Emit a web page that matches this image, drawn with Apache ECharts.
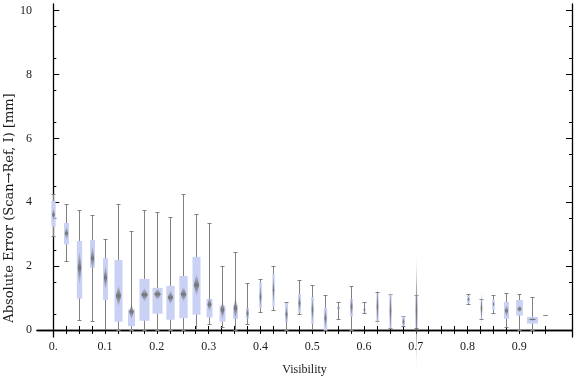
<!DOCTYPE html>
<html>
<head>
<meta charset="utf-8">
<script src="https://cdn.jsdelivr.net/npm/echarts@6/dist/echarts.min.js"></script>
<style>
  html, body { margin: 0; padding: 0; background: #fff; }
  #chart { width: 576px; height: 377px; }
</style>
</head>
<body>
<div id="chart"></div>
<script>
// visibility bins (0.725 - 0.775 have no data)
const visibility = [0, 0.025, 0.05, 0.075, 0.1, 0.125, 0.15, 0.175, 0.2, 0.225, 0.25, 0.275, 0.3, 0.325,
  0.35, 0.375, 0.4, 0.425, 0.45, 0.475, 0.5, 0.525, 0.55, 0.575, 0.6, 0.625, 0.65, 0.675, 0.7,
  0.8, 0.825, 0.85, 0.875, 0.9, 0.925, 0.95]
const whiskerLow = [2.94, 2.15, 0.31, 0.27, 0.03, 0, 0, 0, 0, 0, 0, 0.03, 0.19, 0.08,
  0, 0.19, 0.55, 0.62, 0, 0.49, 0.03, 0, 0.34, 0, 0.52, 0.27, 0.05, 0.12, 0.06,
  0.80, 0.34, 0.52, 0.09, 0, 0, 0.47]
const quart1 = [3.24, 2.68, 0.98, 1.95, 0.95, 0.26, 0.12, 0.29, 0.51, 0.32, 0.37, 0.48, 0.39, 0.26,
  0.35, 0.35, 0.68, 0.73, 0.26, 0.54, 0.19, 0, 0.66, 0.42, 0.55, 0.27, 0.05, 0.13, 0.06,
  0.84, 0.34, 0.62, 0.35, 0.45, 0.20, 0.47]
const median = [3.61, 3.03, 1.95, 2.25, 1.64, 1.07, 0.57, 1.10, 1.12, 1.02, 1.12, 1.41, 0.80, 0.63,
  0.68, 0.52, 1.04, 1.25, 0.49, 0.84, 0.63, 0.37, 0.69, 0.73, 0.63, 0.73, 0.60, 0.26, 0.58,
  0.96, 0.68, 0.81, 0.60, 0.66, 0.33, 0.47]
const quart3 = [4.04, 3.35, 2.79, 2.82, 2.25, 2.19, 0.64, 1.60, 1.32, 1.38, 1.69, 2.29, 0.97, 0.76,
  0.78, 0.69, 1.49, 1.75, 0.84, 1.13, 1.03, 0.70, 0.73, 0.97, 0.70, 1.14, 1.12, 0.42, 1.09,
  1.07, 0.96, 0.96, 0.88, 0.94, 0.41, 0.47]
const whiskerHigh = [4.25, 3.94, 3.75, 3.59, 2.84, 3.94, 3.11, 3.75, 3.71, 3.53, 4.27, 3.64, 3.34, 2.00,
  2.43, 1.47, 1.59, 2.00, 0.88, 1.56, 1.40, 1.09, 0.87, 1.37, 0.87, 1.18, 1.12, 0.43, 1.09,
  1.12, 0.96, 1.09, 1.15, 1.12, 1.03, 0.47]
// relative box width (sample weight)
const boxWeight = [0.43, 0.5, 0.53, 0.5, 0.5, 0.8, 0.7, 1, 1, 0.83, 0.83, 0.8, 0.6, 0.6,
  0.5, 0.3, 0.27, 0.23, 0.3, 0.3, 0.27, 0.33, 0.3, 0.3, 0.17, 0.23, 0.23, 0.3, 0.2,
  0.27, 0.13, 0.27, 0.5, 0.67, 1.1, 0.1]
// half height of the median confidence diamond
const medianSpread = [0.22, 0.22, 0.57, 0.42, 0.42, 0.35, 0.25, 0.22, 0.19, 0.23, 0.25, 0.37, 0.24, 0.3,
  0.4, 0.25, 0.4, 0.5, 0.3, 0.3, 0.45, 0.35, 0.05, 0.35, 0.15, 0.7, 0.8, 0.15, 1.9,
  0.1, 0.55, 0.1, 0.2, 0.12, 0.05, 0]

const xTickValues = []
for (let i = 0; i <= 38; i++) xTickValues.push(+(i * 0.025).toFixed(3))
const xLabelValues = [0, 0.1, 0.2, 0.3, 0.4, 0.5, 0.6, 0.7, 0.8, 0.9]
const yMajor = [0, 2, 4, 6, 8, 10]
const yMinor = []
for (let i = 1; i < 20; i += 2) yMinor.push(i * 0.5)

const serif = '"Liberation Serif", "DejaVu Serif", serif'
const boxColor = '#c9d1f4'
const whiskerColor = '#808080'

const data = visibility.map((v, i) => [v, whiskerLow[i], quart1[i], median[i], quart3[i], whiskerHigh[i], boxWeight[i], medianSpread[i]])

function renderBox (params, api) {
  const x = api.value(0)
  const cx = Math.round(api.coord([x, 0])[0]) + 0.5
  const y = v => api.coord([x, v])[1]
  const yLo = Math.round(y(api.value(1))) + 0.5
  const yQ1 = y(api.value(2))
  const yMd = y(api.value(3))
  const yQ3 = y(api.value(4))
  const yHi = Math.round(y(api.value(5))) + 0.5
  const w = api.value(6) * 10
  const sp = Math.abs(y(api.value(3) + api.value(7)) - yMd)
  const dw = Math.max(w * 0.33, 0.8)
  const line = (x1, y1, x2, y2) => ({
    type: 'line',
    shape: { x1, y1, x2, y2 },
    style: { stroke: whiskerColor, lineWidth: 1 }
  })
  const children = [
    line(cx, yHi, cx, yLo),
    line(cx - 2, yHi, cx + 2, yHi),
    line(cx - 2, yLo, cx + 2, yLo),
    {
      type: 'rect',
      shape: { x: cx - w / 2, y: yQ3, width: w, height: Math.max(yQ1 - yQ3, 0) },
      style: { fill: boxColor }
    }
  ]
  if (sp > 0.5) {
    children.push({
      type: 'polygon',
      shape: { points: [[cx, yMd - sp], [cx + dw, yMd], [cx, yMd + sp], [cx - dw, yMd]] },
      style: {
        fill: {
          type: 'linear', x: 0, y: 0, x2: 0, y2: 1,
          colorStops: [
            { offset: 0, color: 'rgba(110,110,110,0)' },
            { offset: 0.5, color: 'rgba(110,110,110,0.95)' },
            { offset: 1, color: 'rgba(110,110,110,0)' }
          ]
        }
      }
    })
  }
  return { type: 'group', children }
}

const chart = echarts.init(document.getElementById('chart'))

const frameLine = { show: true, lineStyle: { color: '#000', width: 1.3 } }
const xBase = { type: 'value', min: -0.0315, max: 1.0017, splitLine: { show: false } }
const yBase = { type: 'value', min: -0.22, max: 10.21, splitLine: { show: false } }

chart.setOption({
  animation: false,
  grid: { left: 37, right: 4, top: 4, bottom: 40, outerBoundsMode: 'none' },
  xAxis: [
    {
      ...xBase,
      position: 'bottom',
      axisLine: frameLine,
      axisTick: { inside: true, length: 4, customValues: xTickValues, lineStyle: { color: '#000' } },
      axisLabel: {
        customValues: xLabelValues,
        margin: 4,
        color: '#1a1a1a',
        fontFamily: serif,
        fontSize: 12,
        formatter: v => v === 0 ? '0.' : v.toFixed(1)
      },
      name: 'Visibility',
      nameLocation: 'middle',
      nameGap: 27,
      nameTextStyle: { color: '#1a1a1a', fontFamily: serif, fontSize: 12 }
    },
    {
      ...xBase,
      position: 'top',
      axisLine: frameLine,
      axisTick: { inside: true, length: 4, customValues: xTickValues, lineStyle: { color: '#000' } },
      axisLabel: { show: false }
    }
  ],
  yAxis: [
    {
      ...yBase,
      position: 'left',
      axisLine: frameLine,
      axisTick: { inside: true, length: 6, customValues: yMajor, lineStyle: { color: '#000' } },
      axisLabel: {
        customValues: yMajor,
        margin: 5,
        color: '#1a1a1a',
        fontFamily: serif,
        fontSize: 12
      }
    },
    {
      ...yBase,
      position: 'left',
      axisLine: { show: false },
      axisTick: { inside: true, length: 3, customValues: yMinor, lineStyle: { color: '#000' } },
      axisLabel: { show: false }
    },
    {
      ...yBase,
      position: 'right',
      axisLine: frameLine,
      axisTick: { inside: true, length: 6, customValues: yMajor, lineStyle: { color: '#000' } },
      axisLabel: { show: false }
    },
    {
      ...yBase,
      position: 'right',
      axisLine: { show: false },
      axisTick: { inside: true, length: 3, customValues: yMinor, lineStyle: { color: '#000' } },
      axisLabel: { show: false }
    }
  ],
  graphic: [
    {
      type: 'text',
      x: 10,
      y: 208,
      rotation: Math.PI / 2,
      style: {
        text: 'Absolute Error (Scan\u2192Ref, I) [mm]',
        align: 'center',
        verticalAlign: 'middle',
        fill: '#1a1a1a',
        font: '13px "DejaVu Serif", serif'
      }
    }
  ],
  series: [
    {
      type: 'custom',
      xAxisIndex: 0,
      yAxisIndex: 0,
      renderItem: renderBox,
      encode: { x: 0, y: [1, 5] },
      data
    }
  ]
})
</script>
</body>
</html>
